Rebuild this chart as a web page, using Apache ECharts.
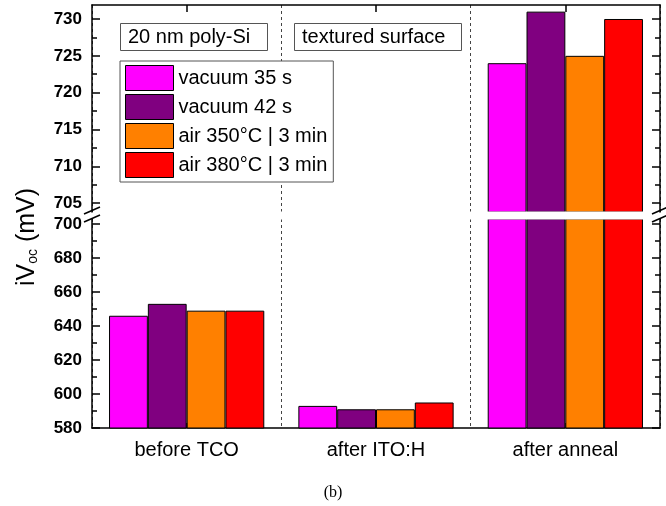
<!DOCTYPE html>
<html>
<head>
<meta charset="utf-8">
<script src="https://cdn.jsdelivr.net/npm/echarts@6/dist/echarts.min.js"></script>
<style>
  html, body { margin: 0; padding: 0; background: #fff; }
  #chart { width: 666px; height: 506px; }
</style>
</head>
<body>
<div id="chart"></div>
<script>
// 数据
const categories = ['before TCO', 'after ITO:H', 'after anneal'];
const seriesNames = ['vacuum 35 s', 'vacuum 42 s', 'air 350°C | 3 min', 'air 380°C | 3 min'];
const vacuum35 = [646, 593, 724];
const vacuum42 = [653, 591, 731];
const air350 = [649, 591, 725];
const air380 = [649, 595, 730];
const seriesValues = [vacuum35, vacuum42, air350, air380];
const colors = ['#FF00FF', '#800080', '#FF8000', '#FF0000'];

// 断轴：上半段 / 下半段
const upperTicks = [705, 710, 715, 720, 725, 730];
const upperMinor = [707.5, 712.5, 717.5, 722.5, 727.5];
const lowerTicks = [580, 600, 620, 640, 660, 680, 700];
const lowerMinor = [590, 610, 630, 650, 670, 690];
const upperRange = [703.8, 731.9];
const lowerRange = [580, 702.9];

const font = 'Liberation Sans, Arial, sans-serif';

function yAxisSet(gridIndex, range, ticks, minor) {
  const base = {
    type: 'value',
    gridIndex: gridIndex,
    min: range[0],
    max: range[1],
    splitLine: { show: false },
  };
  return [
    {
      ...base,
      position: 'left',
      axisLine: { show: true, lineStyle: { color: '#000', width: 1.5 } },
      axisTick: { show: true, inside: true, length: 8, customValues: ticks, lineStyle: { color: '#000', width: 1.5 } },
      axisLabel: { customValues: ticks, color: '#000', fontWeight: 'bold', fontSize: 17, fontFamily: font, margin: 10 },
    },
    {
      ...base,
      position: 'left',
      axisLine: { show: false },
      axisTick: { show: true, inside: true, length: 5, customValues: minor, lineStyle: { color: '#000', width: 1.5 } },
      axisLabel: { show: false },
    },
    {
      ...base,
      position: 'right',
      axisLine: { show: true, lineStyle: { color: '#000', width: 1.5 } },
      axisTick: { show: true, inside: true, length: 8, customValues: ticks, lineStyle: { color: '#000', width: 1.5 } },
      axisLabel: { show: false },
    },
    {
      ...base,
      position: 'right',
      axisLine: { show: false },
      axisTick: { show: true, inside: true, length: 5, customValues: minor, lineStyle: { color: '#000', width: 1.5 } },
      axisLabel: { show: false },
    },
  ];
}

const series = [];
[0, 1].forEach((g) => {
  seriesValues.forEach((vals, i) => {
    series.push({
      name: seriesNames[i],
      type: 'bar',
      xAxisIndex: g,
      yAxisIndex: g * 4,
      data: g === 0 ? vals.map((v) => (v > upperRange[0] ? v : '-')) : vals,
      barGap: '0%',
      barCategoryGap: '18%',
      clip: true,
      itemStyle: { color: colors[i], borderColor: '#000', borderWidth: 1 },
      emphasis: { disabled: true },
    });
  });
});

const splitLine = { show: true, lineStyle: { color: '#444', type: [3, 3], width: 1 } };

const option = {
  animation: false,
  backgroundColor: '#fff',
  grid: [
    { left: 92, right: 6, top: 5, height: 207 },
    { left: 92, right: 6, top: 219, bottom: 78 },
  ],
  xAxis: [
    {
      type: 'category',
      gridIndex: 0,
      position: 'top',
      data: categories,
      axisLine: { show: true, lineStyle: { color: '#000', width: 1.5 } },
      axisTick: { show: true, inside: true, alignWithLabel: true, length: 7, lineStyle: { color: '#000', width: 1.5 } },
      axisLabel: { show: false },
      splitLine: splitLine,
    },
    {
      type: 'category',
      gridIndex: 1,
      position: 'bottom',
      data: categories,
      axisLine: { show: true, lineStyle: { color: '#000', width: 1.5 } },
      axisTick: { show: true, inside: true, alignWithLabel: true, length: 5, lineStyle: { color: '#000', width: 1.5 } },
      axisLabel: { color: '#000', fontSize: 20, fontFamily: font, margin: 12 },
      splitLine: splitLine,
    },
  ],
  yAxis: [
    ...yAxisSet(0, upperRange, upperTicks, upperMinor),
    ...yAxisSet(1, lowerRange, lowerTicks, lowerMinor),
  ],
  legend: {
    data: seriesNames,
    orient: 'vertical',
    left: 120,
    top: 61,
    icon: 'rect',
    itemWidth: 48,
    itemHeight: 25,
    itemGap: 3,
    padding: [4, 6, 4, 5],
    borderColor: '#555',
    borderWidth: 1,
    backgroundColor: '#fff',
    selectedMode: false,
    itemStyle: { borderColor: '#000', borderWidth: 1 },
    textStyle: { color: '#000', fontSize: 20, fontFamily: font },
  },
  title: [
    {
      text: '20 nm poly-Si',
      left: 120,
      top: 23,
      padding: [4, 17, 4, 8],
      borderColor: '#555',
      borderWidth: 1,
      backgroundColor: '#fff',
      textStyle: { color: '#000', fontSize: 20, fontWeight: 'normal', fontFamily: font },
    },
    {
      text: 'textured surface',
      left: 294,
      top: 23,
      padding: [4, 16, 4, 8],
      borderColor: '#555',
      borderWidth: 1,
      backgroundColor: '#fff',
      textStyle: { color: '#000', fontSize: 20, fontWeight: 'normal', fontFamily: font },
    },
    {
      text: '(b)',
      left: 'center',
      top: 480,
      textStyle: { color: '#000', fontSize: 16, fontWeight: 'normal', fontFamily: 'Liberation Serif, serif' },
    },
  ],
  graphic: [
    {
      type: 'text',
      x: 27,
      y: 237,
      rotation: Math.PI / 2,
      style: {
        text: '{a|iV}{b|oc}{a| (mV)}',
        align: 'center',
        verticalAlign: 'middle',
        fill: '#000',
        rich: {
          a: { fontSize: 25, fontFamily: font, fill: '#000' },
          b: { fontSize: 14, fontFamily: font, fill: '#000', padding: [12, 0, 0, 0] },
        },
      },
    },
    // 断轴之间的白色间隙
    { type: 'rect', z: 100, shape: { x: 93, y: 211.5, width: 566, height: 8 }, style: { fill: '#fff' } },
    // 断轴标记
    { type: 'line', z: 101, shape: { x1: 84, y1: 214, x2: 100, y2: 207 }, style: { stroke: '#000', lineWidth: 1.5 } },
    { type: 'line', z: 101, shape: { x1: 84, y1: 222, x2: 100, y2: 215 }, style: { stroke: '#000', lineWidth: 1.5 } },
    { type: 'line', z: 101, shape: { x1: 652, y1: 214, x2: 668, y2: 207 }, style: { stroke: '#000', lineWidth: 1.5 } },
    { type: 'line', z: 101, shape: { x1: 652, y1: 222, x2: 668, y2: 215 }, style: { stroke: '#000', lineWidth: 1.5 } },
  ],
  series: series,
};

const mychart = echarts.init(document.getElementById('chart'));
mychart.setOption(option);

window.addEventListener('resize', () => {
  mychart.resize();
});
</script>
</body>
</html>
